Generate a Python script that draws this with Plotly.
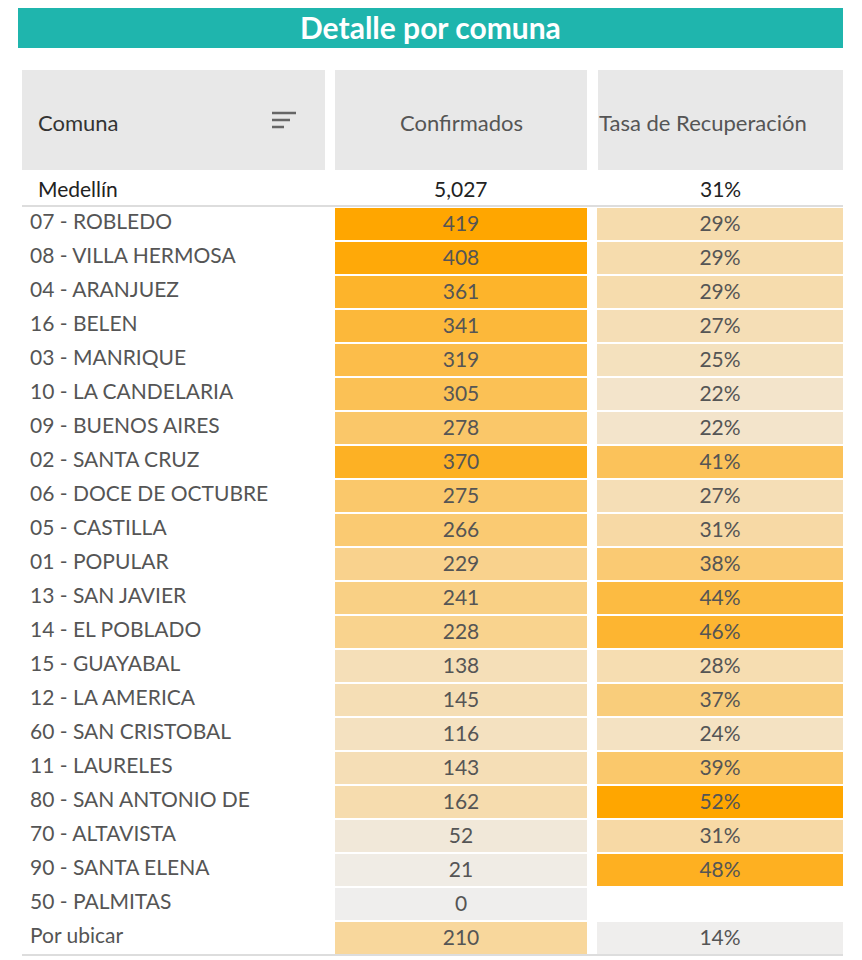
import plotly.graph_objects as go

comunas = ["07 - ROBLEDO","08 - VILLA HERMOSA","04 - ARANJUEZ","16 - BELEN","03 - MANRIQUE",
           "10 - LA CANDELARIA","09 - BUENOS AIRES","02 - SANTA CRUZ","06 - DOCE DE OCTUBRE",
           "05 - CASTILLA","01 - POPULAR","13 - SAN JAVIER","14 - EL POBLADO","15 - GUAYABAL",
           "12 - LA AMERICA","60 - SAN CRISTOBAL","11 - LAURELES","80 - SAN ANTONIO DE",
           "70 - ALTAVISTA","90 - SANTA ELENA","50 - PALMITAS","Por ubicar"]
confirmados = [419,408,361,341,319,305,278,370,275,266,229,241,228,138,145,116,143,162,52,21,0,210]
tasa = [29,29,29,27,25,22,22,41,27,31,38,44,46,28,37,24,39,52,31,48,None,14]
total_label = "Medellín"
total_conf = 5027
total_tasa = 31

W, H = 862, 960
OFF = 8  # page body margin
def xp(x): return (x - OFF) / W
def yp(y): return 1 - (y - OFF) / H

scale = [[0, "#EFEEED"], [0.5, "#F8D79C"], [1, "#FFA600"]]
font = "Lato, Open Sans, sans-serif"
txtcol = "#555555"

fig = go.Figure()
fig.add_trace(go.Heatmap(
    x=[330, 592], y=comunas, z=[[v] for v in confirmados],
    text=[[f"{v:,}"] for v in confirmados], texttemplate="%{text}",
    textfont=dict(size=21, color=txtcol, family=font),
    colorscale=scale, zmin=0, zmax=419, showscale=False, xgap=10, ygap=2, hoverinfo="skip"))
fig.add_trace(go.Heatmap(
    x=[592, 848], y=comunas, z=[[v] for v in tasa],
    text=[["" if v is None else f"{v}%"] for v in tasa], texttemplate="%{text}",
    textfont=dict(size=21, color=txtcol, family=font),
    colorscale=scale, zmin=14, zmax=52, showscale=False, xgap=10, ygap=2, hoverinfo="skip"))
fig.add_trace(go.Scatter(
    x=[30] * len(comunas), y=comunas, mode="text", text=comunas, textposition="middle right",
    textfont=dict(size=21, color=txtcol, family=font), hoverinfo="skip", showlegend=False))

shapes = [
    dict(type="rect", xref="paper", yref="paper", x0=xp(18), x1=xp(843), y0=yp(48), y1=yp(4),
         fillcolor="#1FB5AD", line_width=0, layer="below"),
]
for a, b in [(22, 325), (335, 587), (598, 843)]:
    shapes.append(dict(type="rect", xref="paper", yref="paper", x0=xp(a), x1=xp(b), y0=yp(170), y1=yp(70),
                       fillcolor="#E8E8E8", line_width=0, layer="below"))
shapes.append(dict(type="line", xref="paper", yref="paper", x0=xp(22), x1=xp(843), y0=yp(206), y1=yp(206),
                   line=dict(color="#BBBBBB", width=1)))
shapes.append(dict(type="line", xref="paper", yref="paper", x0=xp(22), x1=xp(843), y0=yp(955), y1=yp(955),
                   line=dict(color="#BBBBBB", width=1)))
for x0, x1, y in [(272, 296, 113), (272, 290, 120), (272, 284, 127)]:
    shapes.append(dict(type="line", xref="paper", yref="paper", x0=xp(x0), x1=xp(x1), y0=yp(y), y1=yp(y),
                       line=dict(color="#666666", width=2.5)))

ann = [
    dict(x=xp(430), y=yp(27), text="<b>Detalle por comuna</b>", font=dict(size=30, color="white", family=font)),
    dict(x=xp(36), y=yp(123), text="Comuna", xanchor="left", font=dict(size=22, color="#333333", family=font)),
    dict(x=xp(461), y=yp(123), text="Confirmados", font=dict(size=22, color="#555555", family=font)),
    dict(x=xp(597), y=yp(123), text="Tasa de Recuperación", xanchor="left", font=dict(size=22, color="#555555", family=font)),
    dict(x=xp(36), y=yp(189), text=total_label, xanchor="left", font=dict(size=21, color="#222222", family=font)),
    dict(x=xp(461), y=yp(189), text=f"{total_conf:,}", font=dict(size=21, color="#222222", family=font)),
    dict(x=xp(720), y=yp(189), text=f"{total_tasa}%", font=dict(size=21, color="#222222", family=font)),
]
for a in ann:
    a.setdefault("xanchor", "center")
    a.update(xref="paper", yref="paper", showarrow=False, yanchor="middle")

fig.update_layout(
    width=W, height=H, margin=dict(l=0, r=0, t=0, b=0),
    paper_bgcolor="white", plot_bgcolor="white", shapes=shapes, annotations=ann,
    xaxis=dict(range=[OFF, W + OFF], domain=[0, 1], visible=False, fixedrange=True),
    yaxis=dict(type="category", categoryorder="array", categoryarray=comunas,
               range=[len(comunas) - 0.5, -0.5], domain=[yp(955), yp(207)], visible=False),
    showlegend=False,
)
fig.write_html("out.html")
